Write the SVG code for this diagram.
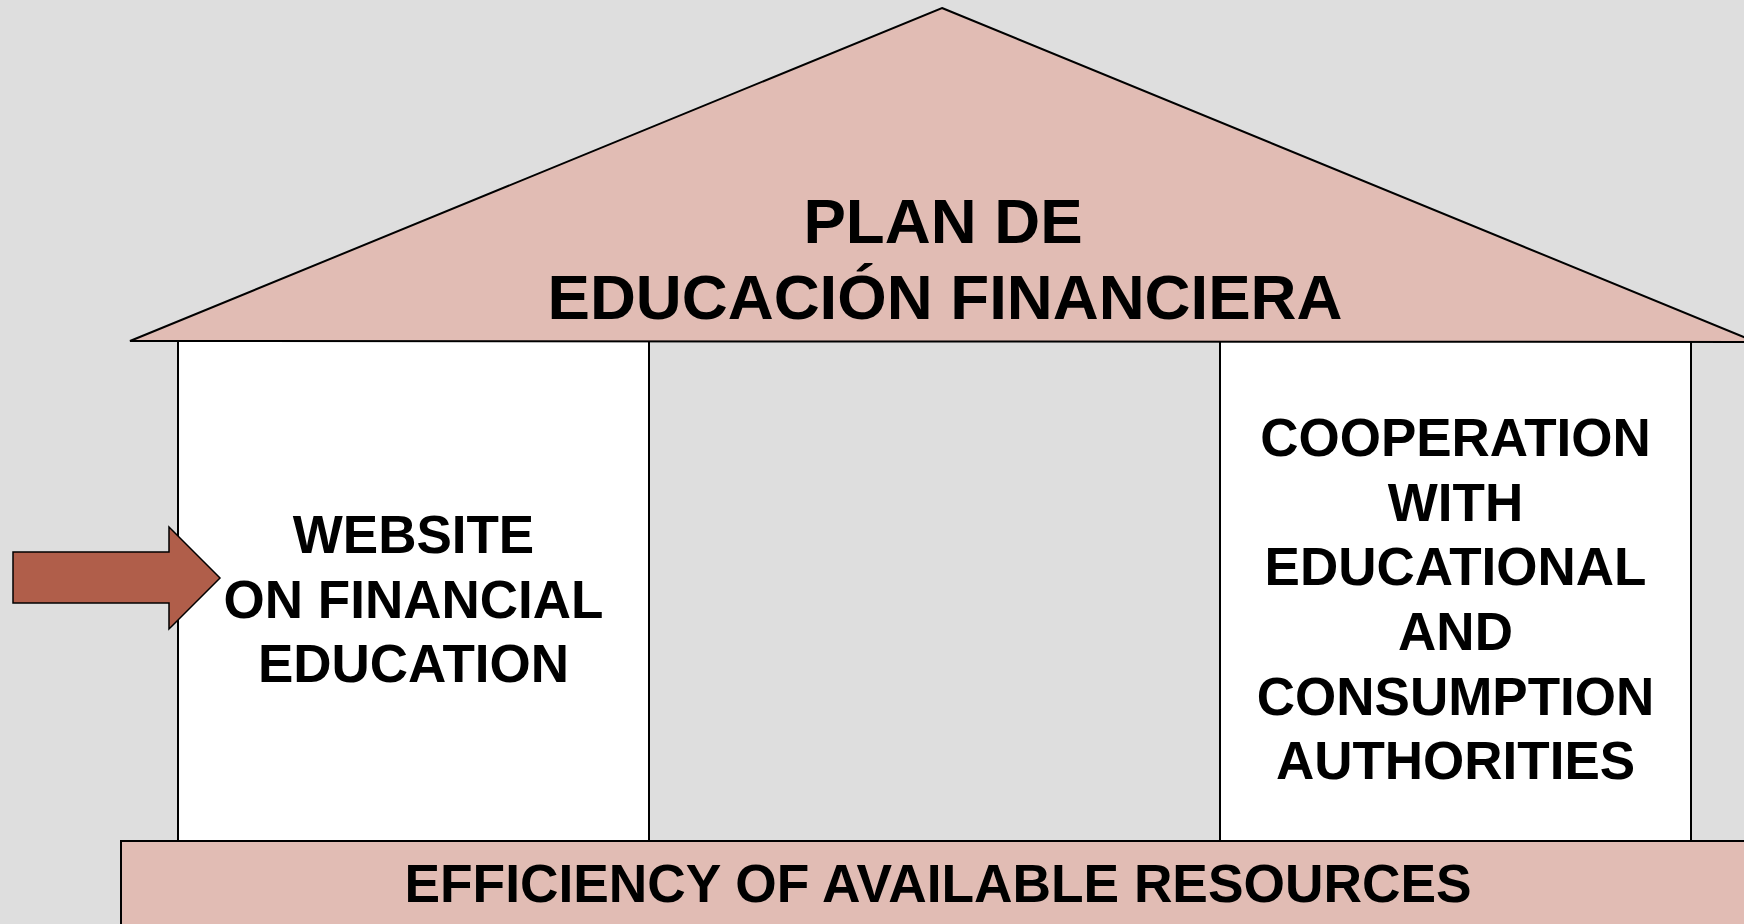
<svg xmlns="http://www.w3.org/2000/svg" width="1744" height="924" viewBox="0 0 1744 924">
<style>
.bg{fill:#dedede}
.pink{fill:#e1bcb4;stroke:#000;stroke-width:2}
.pillar{fill:#fff;stroke:#000;stroke-width:2}
.gap{fill:#dedede;stroke:#000;stroke-width:2}
.arrow{fill:#b05e4a;stroke:#000;stroke-width:1.5}
text{font-family:"Liberation Sans",Arial,sans-serif;font-weight:bold;fill:#000;text-anchor:middle}
.roof{font-size:63.6px}
.col{font-size:53px}
.base{font-size:53.3px}
</style>
<rect class="bg" x="0" y="0" width="1744" height="924"/>
<g id="pillar-center">
<rect class="gap" x="649" y="341" width="571" height="500"/>
</g>
<g id="pillar-left">
<rect class="pillar" x="178" y="341" width="471" height="500"/>
<text class="col" x="413.5" y="553">WEBSITE</text>
<text class="col" x="413.5" y="617.5">ON FINANCIAL</text>
<text class="col" x="413.5" y="682">EDUCATION</text>
</g>
<g id="pillar-right">
<rect class="pillar" x="1220" y="341" width="471" height="500"/>
<text class="col" x="1455.5" y="456">COOPERATION</text>
<text class="col" x="1455.5" y="520.5">WITH</text>
<text class="col" x="1455.5" y="585">EDUCATIONAL</text>
<text class="col" x="1455.5" y="650">AND</text>
<text class="col" x="1455.5" y="714.5">CONSUMPTION</text>
<text class="col" x="1455.5" y="779">AUTHORITIES</text>
</g>
<g id="roof">
<polygon class="pink" points="942,8 1756,342 130,341"/>
<text class="roof" x="943" y="243">PLAN DE</text>
<text class="roof" x="945" y="319">EDUCACIÓN FINANCIERA</text>
</g>
<g id="base">
<rect class="pink" x="121" y="841" width="1640" height="100"/>
<text class="base" x="938" y="902">EFFICIENCY OF AVAILABLE RESOURCES</text>
</g>
<g id="connectors">
<polygon class="arrow" points="13,552 169,552 169,527 220,578 169,629 169,603 13,603"/>
</g>
</svg>
